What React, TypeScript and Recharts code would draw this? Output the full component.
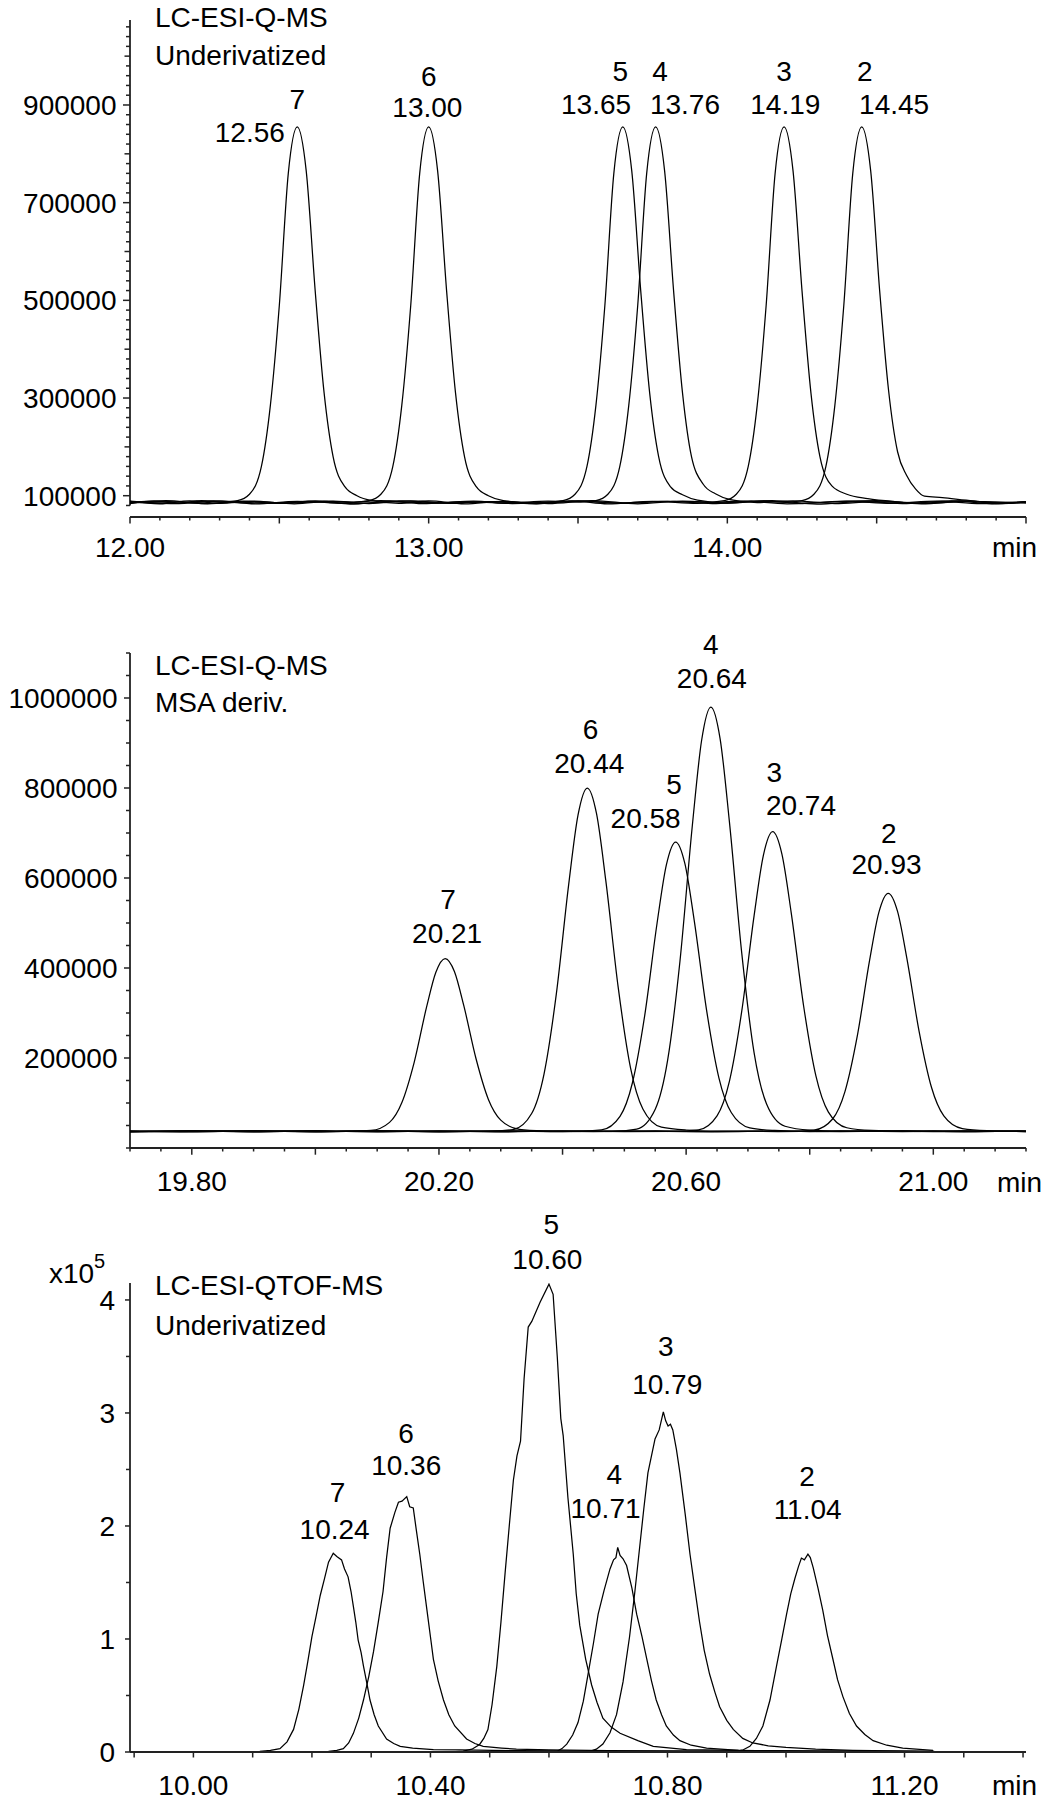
import React from 'react';
import { LineChart, Line, XAxis, YAxis, ReferenceLine, ReferenceDot } from 'recharts';

type Pt = [number, number];

const FONT = '"Liberation Sans", Arial, Helvetica, sans-serif';
const INK = '#000';
const AXIS = '#222';

// ---------------- Panel A: LC-ESI-Q-MS, underivatized (intensity counts) ----------------
const aTrace7: Pt[] = [
  [12.0, 84000], [12.08, 89000], [12.16, 85000], [12.24, 90000], [12.31, 87000], [12.36, 90000], [12.4, 103000],
  [12.44, 160000], [12.47, 285000], [12.5, 490000], [12.53, 760000], [12.56, 855000], [12.59, 765000],
  [12.62, 520000], [12.65, 310000], [12.68, 180000], [12.72, 118000], [12.76, 100000], [12.81, 90000],
  [12.9, 84500], [13.0, 89500], [13.12, 83500], [13.25, 88500], [13.4, 84000], [13.55, 90000], [13.7, 83500],
  [13.85, 89000], [14.0, 85000], [14.15, 90000], [14.3, 83000], [14.45, 88000], [14.6, 84000], [14.75, 89500],
  [14.9, 83500], [15.0, 87000],
];
const aTrace6: Pt[] = [
  [12.0, 88500], [12.1, 83500], [12.2, 89500], [12.3, 84500], [12.42, 88000], [12.55, 83500], [12.68, 89000],
  [12.75, 87000], [12.8, 90000], [12.84, 103000], [12.88, 160000], [12.91, 285000], [12.94, 490000],
  [12.97, 760000], [13.0, 855000], [13.03, 765000], [13.06, 520000], [13.09, 310000], [13.12, 180000],
  [13.16, 118000], [13.2, 100000], [13.25, 90000], [13.35, 85000], [13.48, 89500], [13.6, 83500],
  [13.75, 88500], [13.9, 84500], [14.05, 89000], [14.2, 83500], [14.35, 88000], [14.5, 90000], [14.65, 83500],
  [14.8, 88500], [15.0, 85000],
];
const aTrace5: Pt[] = [
  [12.0, 86000], [12.12, 90000], [12.25, 84000], [12.38, 88500], [12.5, 84500], [12.62, 89500], [12.75, 83500],
  [12.88, 88000], [13.02, 85000], [13.15, 89000], [13.28, 84000], [13.4, 87000], [13.45, 90000], [13.49, 103000],
  [13.53, 160000], [13.56, 285000], [13.59, 490000], [13.62, 760000], [13.65, 855000], [13.68, 765000],
  [13.71, 520000], [13.74, 310000], [13.77, 180000], [13.81, 118000], [13.85, 102000], [13.9, 91000],
  [14.0, 85000], [14.12, 89500], [14.25, 84000], [14.4, 88500], [14.55, 84500], [14.7, 89000], [14.85, 84000],
  [15.0, 87500],
];
const aTrace4: Pt[] = [
  [12.0, 89000], [12.14, 84500], [12.28, 89500], [12.42, 83500], [12.56, 88500], [12.7, 85000], [12.84, 90000],
  [12.98, 84000], [13.12, 88000], [13.26, 84500], [13.4, 89000], [13.51, 87000], [13.56, 90000], [13.6, 103000],
  [13.64, 160000], [13.67, 285000], [13.7, 490000], [13.73, 760000], [13.76, 855000], [13.79, 765000],
  [13.82, 520000], [13.85, 310000], [13.88, 180000], [13.92, 123000], [13.96, 104000], [14.01, 92000],
  [14.1, 86000], [14.22, 89500], [14.36, 84000], [14.5, 88000], [14.64, 84500], [14.78, 89500], [14.92, 85000],
  [15.0, 87000],
];
const aTrace3: Pt[] = [
  [12.0, 85000], [12.13, 88000], [12.26, 83500], [12.4, 89000], [12.53, 85000], [12.66, 88500], [12.8, 84000],
  [12.94, 89500], [13.08, 84500], [13.22, 88000], [13.36, 83500], [13.5, 89000], [13.64, 85000], [13.78, 88500],
  [13.94, 87000], [13.99, 90000], [14.03, 103000], [14.07, 160000], [14.1, 285000], [14.13, 490000],
  [14.16, 760000], [14.19, 855000], [14.22, 765000], [14.25, 520000], [14.28, 310000], [14.31, 180000],
  [14.35, 120000], [14.4, 103000], [14.47, 94000], [14.56, 88000], [14.68, 84500], [14.8, 89000], [14.92, 84000],
  [15.0, 87500],
];
const aTrace2: Pt[] = [
  [12.0, 87500], [12.15, 84000], [12.3, 89000], [12.45, 84500], [12.6, 88500], [12.75, 83500], [12.9, 89500],
  [13.05, 85000], [13.2, 88000], [13.35, 84000], [13.5, 89000], [13.65, 84500], [13.8, 88500], [13.95, 84000],
  [14.08, 89000], [14.2, 87000], [14.25, 90000], [14.29, 103000], [14.33, 160000], [14.36, 285000],
  [14.39, 490000], [14.42, 760000], [14.45, 855000], [14.48, 765000], [14.51, 520000], [14.54, 315000],
  [14.57, 190000], [14.6, 142000], [14.63, 114000], [14.66, 99000], [14.72, 96000], [14.8, 91000],
  [14.9, 85500], [15.0, 88000],
];
const aPeakNums = ['7', '6', '5', '4', '3', '2'];
const aPeakRts = ['12.56', '13.00', '13.65', '13.76', '14.19', '14.45'];
const aXLabelVals = [12, 13, 14];
const aXLabelTexts = ['12.00', '13.00', '14.00'];
const aYLabelVals = [100000, 300000, 500000, 700000, 900000];
const aYLabelTexts = ['100000', '300000', '500000', '700000', '900000'];

// ---------------- Panel B: LC-ESI-Q-MS, MSA derivatized ----------------
const bTrace7: Pt[] = [
  [19.7, 36000], [19.8, 38000], [19.9, 36500], [20.0, 38500], [20.05, 37000], [20.09, 39000], [20.12, 57000],
  [20.14, 101100], [20.16, 191000], [20.18, 313500], [20.195, 390700], [20.21, 421000], [20.225, 392200],
  [20.24, 317300], [20.26, 198300], [20.28, 108000], [20.3, 62000], [20.33, 41600], [20.37, 38200],
  [20.45, 36500], [20.55, 38000], [20.65, 36000], [20.75, 37500], [20.85, 36500], [20.95, 38000],
  [21.05, 36500], [21.15, 37500],
];
const bTrace6: Pt[] = [
  [19.7, 37500], [19.8, 36000], [19.9, 38000], [20.0, 36500], [20.1, 38500], [20.2, 36500], [20.28, 37000],
  [20.32, 41000], [20.35, 76700], [20.37, 164400], [20.39, 343000], [20.41, 586400], [20.425, 739700],
  [20.44, 800000], [20.455, 742800], [20.47, 594000], [20.49, 357500], [20.51, 178200], [20.53, 86600],
  [20.56, 46200], [20.6, 40000], [20.66, 37500], [20.75, 36500], [20.85, 38000], [20.95, 36500],
  [21.05, 38000], [21.15, 36500],
];
const bTrace5: Pt[] = [
  [19.7, 38000], [19.8, 36500], [19.9, 37500], [20.0, 36000], [20.1, 38000], [20.2, 36500], [20.3, 38000],
  [20.38, 36500], [20.42, 37000], [20.463, 40300], [20.493, 70400], [20.513, 144400], [20.533, 294800],
  [20.553, 500000], [20.568, 629200], [20.583, 680000], [20.598, 631800], [20.613, 506400], [20.633, 307000],
  [20.653, 156000], [20.673, 78800], [20.703, 44700], [20.743, 38900], [20.8, 36500], [20.9, 38000],
  [21.0, 36500], [21.15, 37500],
];
const bTrace4: Pt[] = [
  [19.7, 36500], [19.8, 37500], [19.9, 36000], [20.0, 38000], [20.1, 36500], [20.2, 38000], [20.3, 36000],
  [20.4, 37500], [20.48, 37000], [20.52, 41900], [20.55, 86000], [20.57, 194500], [20.59, 415100],
  [20.61, 716000], [20.625, 905500], [20.64, 980000], [20.655, 909300], [20.67, 725400], [20.69, 433100],
  [20.71, 211500], [20.73, 98300], [20.76, 48300], [20.8, 39800], [20.87, 37000], [20.95, 38000],
  [21.05, 36500], [21.15, 37500],
];
const bTrace3: Pt[] = [
  [19.7, 37000], [19.8, 38500], [19.9, 36500], [20.0, 37500], [20.1, 36000], [20.2, 38000], [20.3, 36500],
  [20.4, 38000], [20.5, 36500], [20.58, 37000], [20.62, 40500], [20.65, 71600], [20.67, 148200],
  [20.69, 304100], [20.71, 516500], [20.725, 650400], [20.74, 703000], [20.755, 653000], [20.77, 523200],
  [20.79, 316700], [20.81, 160200], [20.83, 80300], [20.86, 45000], [20.9, 39000], [20.97, 37000],
  [21.05, 38000], [21.15, 36500],
];
const bTrace2: Pt[] = [
  [19.7, 36000], [19.8, 37000], [19.9, 38500], [20.0, 36500], [20.1, 37500], [20.2, 36000], [20.3, 38000],
  [20.4, 36500], [20.5, 38000], [20.6, 36500], [20.7, 37500], [20.767, 37000], [20.807, 39800],
  [20.837, 64500], [20.857, 125300], [20.877, 249100], [20.897, 417900], [20.912, 524200], [20.927, 566000],
  [20.942, 526300], [20.957, 423200], [20.977, 259200], [20.997, 134900], [21.017, 71400], [21.047, 43300],
  [21.087, 38600], [21.15, 37000],
];
const bPeakNums = ['7', '6', '5', '4', '3', '2'];
const bPeakRts = ['20.21', '20.44', '20.58', '20.64', '20.74', '20.93'];
const bXLabelVals = [19.8, 20.2, 20.6, 21.0];
const bXLabelTexts = ['19.80', '20.20', '20.60', '21.00'];
const bYLabelVals = [200000, 400000, 600000, 800000, 1000000];
const bYLabelTexts = ['200000', '400000', '600000', '800000', '1000000'];

// ---------------- Panel C: LC-ESI-QTOF-MS, underivatized (x10^5) ----------------
const cTrace7: Pt[] = [
  [10.1, 0.0], [10.112, 0.005], [10.13, 0.015], [10.146, 0.03], [10.158, 0.09], [10.169, 0.2], [10.178, 0.38],
  [10.186, 0.59], [10.193, 0.8], [10.2, 1.02], [10.207, 1.2], [10.214, 1.385], [10.221, 1.53], [10.228, 1.68],
  [10.236, 1.758], [10.242, 1.73], [10.25, 1.7], [10.255, 1.62], [10.261, 1.55], [10.266, 1.42], [10.27, 1.286],
  [10.274, 1.15], [10.278, 0.99], [10.283, 0.88], [10.287, 0.76], [10.293, 0.6], [10.298, 0.46], [10.305, 0.33],
  [10.312, 0.23], [10.326, 0.115], [10.338, 0.075], [10.349, 0.05], [10.37, 0.035], [10.405, 0.022],
  [10.45, 0.018], [10.55, 0.012], [10.7, 0.008], [10.9, 0.005], [11.25, 0.004],
];
const cTrace6: Pt[] = [
  [10.215, 0.0], [10.228, 0.005], [10.242, 0.015], [10.253, 0.03], [10.262, 0.08], [10.27, 0.165], [10.279, 0.3],
  [10.287, 0.46], [10.296, 0.67], [10.304, 0.89], [10.312, 1.15], [10.32, 1.42], [10.326, 1.72], [10.332, 1.98],
  [10.34, 2.12], [10.346, 2.21], [10.352, 2.22], [10.36, 2.26], [10.365, 2.17], [10.371, 2.16], [10.376, 1.97],
  [10.382, 1.75], [10.388, 1.5], [10.394, 1.26], [10.4, 1.02], [10.405, 0.82], [10.413, 0.63], [10.422, 0.46],
  [10.431, 0.33], [10.441, 0.23], [10.461, 0.115], [10.475, 0.075], [10.489, 0.05], [10.52, 0.035],
  [10.545, 0.025], [10.6, 0.018], [10.7, 0.012], [10.9, 0.007], [11.25, 0.004],
];
const cTrace5: Pt[] = [
  [10.43, 0.0], [10.455, 0.008], [10.47, 0.025], [10.483, 0.067], [10.49, 0.12], [10.497, 0.198], [10.504, 0.42],
  [10.512, 0.758], [10.519, 1.15], [10.526, 1.585], [10.533, 2.0], [10.54, 2.407], [10.546, 2.62], [10.552, 2.75],
  [10.558, 3.3], [10.565, 3.76], [10.571, 3.81], [10.585, 3.98], [10.6, 4.14], [10.607, 4.05], [10.614, 3.5],
  [10.62, 2.95], [10.624, 2.8], [10.632, 2.25], [10.641, 1.75], [10.646, 1.4], [10.652, 1.12], [10.662, 0.82],
  [10.672, 0.593], [10.681, 0.44], [10.691, 0.3], [10.705, 0.22], [10.72, 0.166], [10.75, 0.1], [10.776, 0.05],
  [10.832, 0.02], [10.95, 0.012], [11.06, 0.008], [11.25, 0.005],
];
const cTrace4: Pt[] = [
  [10.58, 0.0], [10.613, 0.005], [10.622, 0.03], [10.63, 0.07], [10.64, 0.15], [10.649, 0.26], [10.658, 0.45],
  [10.666, 0.69], [10.675, 0.96], [10.683, 1.22], [10.693, 1.43], [10.703, 1.62], [10.709, 1.7], [10.713, 1.72],
  [10.716, 1.81], [10.72, 1.74], [10.725, 1.71], [10.731, 1.65], [10.74, 1.45], [10.748, 1.22], [10.757, 1.02],
  [10.765, 0.825], [10.773, 0.63], [10.781, 0.46], [10.79, 0.33], [10.798, 0.23], [10.81, 0.15], [10.821, 0.1],
  [10.84, 0.06], [10.866, 0.035], [10.92, 0.015], [11.05, 0.008], [11.25, 0.004],
];
const cTrace3: Pt[] = [
  [10.64, 0.0], [10.669, 0.005], [10.68, 0.025], [10.691, 0.07], [10.703, 0.17], [10.714, 0.33], [10.725, 0.62],
  [10.736, 1.02], [10.745, 1.42], [10.753, 1.81], [10.76, 2.15], [10.767, 2.47], [10.773, 2.62], [10.779, 2.77],
  [10.786, 2.85], [10.793, 3.01], [10.797, 2.93], [10.801, 2.885], [10.805, 2.9], [10.809, 2.85], [10.815, 2.68],
  [10.821, 2.47], [10.83, 2.1], [10.838, 1.75], [10.846, 1.45], [10.854, 1.155], [10.862, 0.9], [10.871, 0.69],
  [10.88, 0.53], [10.888, 0.4], [10.9, 0.28], [10.911, 0.2], [10.927, 0.12], [10.944, 0.08], [10.97, 0.055],
  [11.0, 0.04], [11.05, 0.025], [11.113, 0.015], [11.25, 0.006],
];
const cTrace2: Pt[] = [
  [10.88, 0.0], [10.916, 0.005], [10.928, 0.02], [10.939, 0.05], [10.95, 0.12], [10.961, 0.23], [10.973, 0.46],
  [10.984, 0.76], [10.993, 1.0], [11.001, 1.22], [11.008, 1.4], [11.015, 1.535], [11.021, 1.64], [11.026, 1.716],
  [11.031, 1.7], [11.037, 1.75], [11.041, 1.72], [11.046, 1.63], [11.054, 1.45], [11.062, 1.256], [11.07, 1.03],
  [11.079, 0.825], [11.087, 0.64], [11.096, 0.49], [11.107, 0.34], [11.119, 0.23], [11.133, 0.155],
  [11.147, 0.1], [11.17, 0.06], [11.197, 0.035], [11.248, 0.015],
];
const cPeakNums = ['7', '6', '5', '4', '3', '2'];
const cPeakRts = ['10.24', '10.36', '10.60', '10.71', '10.79', '11.04'];
const cXLabelVals = [10.0, 10.4, 10.8, 11.2];
const cXLabelTexts = ['10.00', '10.40', '10.80', '11.20'];
const cYLabelVals = [0, 1, 2, 3, 4];
const cYLabelTexts = ['0', '1', '2', '3', '4'];

// ---------------- helpers (layout only) ----------------
const rows = (pts: Pt[]) => pts.map(([t, v]) => ({ t, v }));
function steps(a: number, b: number, s: number): number[] {
  const out: number[] = [];
  const n = Math.round((b - a) / s);
  for (let i = 0; i <= n; i++) out.push(+(a + i * s).toFixed(4));
  return out;
}
const near = (a: number, b: number) => Math.abs(a - b) < 1e-6;
const isMult = (v: number, m: number) => Math.abs(v / m - Math.round(v / m)) < 1e-6;
const apexOf = (pts: Pt[]): Pt => pts.reduce((m, p) => (p[1] > m[1] ? p : m), pts[0]);

type Cfg = {
  top: number; height: number; mTop: number; xH: number; mBottom: number;
  xDomain: [number, number]; yDomain: [number, number];
  xTicks: number[]; xLabelVals: number[]; xLabelTexts: string[];
  xLongEvery: number; xLongLen: number; xShortLen: number; xLabelDy: number;
  yTicks: number[]; yLabelVals: number[]; yLabelTexts: string[];
  yMidEvery: number; yLongLen: number; yMidLen: number; yShortLen: number; yLabelGap: number;
  yAxisFrom: number;
  traces: Pt[][]; curve: 'monotone' | 'linear';
  peakNums: string[]; peakRts: string[];
  // [number dx, number dy, rt dx, rt dy, rt anchor(0 middle / 1 end)]
  labelLayout: number[][];
};

const txt = { fontFamily: FONT, fontSize: 28, fill: INK } as const;

const PeakLabel = (props: any) => {
  const vb = props.viewBox || {};
  const cx = (vb.x ?? props.x ?? 0) + (vb.width ?? 0) / 2;
  const cy = (vb.y ?? props.y ?? 0) + (vb.height ?? 0) / 2;
  const [ndx, ndy, rdx, rdy, end] = props.lay;
  return (
    <g>
      <text x={cx + ndx} y={cy + ndy} textAnchor="middle" {...txt}>{props.num}</text>
      <text x={cx + rdx} y={cy + rdy} textAnchor={end ? 'end' : 'middle'} {...txt}>{props.rt}</text>
    </g>
  );
};

function Panel({ c }: { c: Cfg }) {
  const xTick = (p: any) => {
    const v = p.payload.value;
    const li = c.xLabelVals.findIndex((l) => near(l, v));
    const len = isMult(v, c.xLongEvery) ? c.xLongLen : c.xShortLen;
    return (
      <g>
        <line x1={p.x} x2={p.x} y1={p.y} y2={p.y + len} stroke={AXIS} strokeWidth={1.5} />
        {li >= 0 && (
          <text x={p.x} y={p.y + c.xLabelDy} textAnchor="middle" {...txt}>{c.xLabelTexts[li]}</text>
        )}
      </g>
    );
  };
  const yTick = (p: any) => {
    const v = p.payload.value;
    const li = c.yLabelVals.findIndex((l) => near(l, v));
    const len = li >= 0 ? c.yLongLen : isMult(v, c.yMidEvery) ? c.yMidLen : c.yShortLen;
    return (
      <g>
        <line x1={p.x - len} x2={p.x} y1={p.y} y2={p.y} stroke={AXIS} strokeWidth={1.5} />
        {li >= 0 && (
          <text x={p.x - c.yLongLen - c.yLabelGap} y={p.y + 10} textAnchor="end" {...txt}>{c.yLabelTexts[li]}</text>
        )}
      </g>
    );
  };
  return (
    <div style={{ position: 'absolute', left: 0, top: c.top, width: 1042, height: c.height }}>
      <LineChart width={1042} height={c.height} margin={{ top: c.mTop, right: 16, bottom: c.mBottom, left: 0 }}>
        <XAxis
          dataKey="t" type="number" domain={c.xDomain} allowDataOverflow ticks={c.xTicks} interval={0}
          height={c.xH} tickSize={0} tickMargin={0} tickLine={false}
          axisLine={{ stroke: AXIS, strokeWidth: 1.8 }} tick={xTick}
        />
        <YAxis
          type="number" domain={c.yDomain} allowDataOverflow ticks={c.yTicks} interval={0} width={130}
          tickSize={0} tickMargin={0} tickLine={false} axisLine={false} tick={yTick}
        />
        <ReferenceLine
          segment={[{ x: c.xDomain[0], y: c.yAxisFrom }, { x: c.xDomain[0], y: c.yDomain[1] }]}
          stroke={AXIS} strokeWidth={1.8} ifOverflow="visible"
        />
        {c.traces.map((tr, i) => (
          <Line
            key={`tr${i}`} data={rows(tr)} dataKey="v" type={c.curve} stroke={INK} strokeWidth={1.25}
            dot={false} activeDot={false} isAnimationActive={false}
          />
        ))}
        {c.traces.map((tr, i) => {
          const [t, v] = apexOf(tr);
          return (
            <ReferenceDot
              key={`pk${i}`} x={t} y={v} r={1} fill="none" stroke="none" ifOverflow="visible"
              label={<PeakLabel num={c.peakNums[i]} rt={c.peakRts[i]} lay={c.labelLayout[i]} />}
            />
          );
        })}
      </LineChart>
    </div>
  );
}

const panelA: Cfg = {
  top: 0, height: 580, mTop: 20, xH: 60, mBottom: 3,
  xDomain: [12, 15], yDomain: [56400, 1074000],
  xTicks: steps(12, 15, 0.1), xLabelVals: aXLabelVals, xLabelTexts: aXLabelTexts,
  xLongEvery: 0.5, xLongLen: 6.5, xShortLen: 3.5, xLabelDy: 39.5,
  yTicks: steps(80000, 1060000, 20000), yLabelVals: aYLabelVals, yLabelTexts: aYLabelTexts,
  yMidEvery: 100000, yLongLen: 7, yMidLen: 5.5, yShortLen: 4, yLabelGap: 6.5,
  yAxisFrom: 80000,
  traces: [aTrace7, aTrace6, aTrace5, aTrace4, aTrace3, aTrace2], curve: 'monotone',
  peakNums: aPeakNums, peakRts: aPeakRts,
  labelLayout: [
    [0, -18, -12.4, 15.5, 1],
    [0, -41.2, -1.3, -9.6, 0],
    [-2.4, -45.5, -26.7, -13.2, 0],
    [4.5, -45.5, 29.3, -13.2, 0],
    [0, -45.5, 1.2, -13.2, 0],
    [3.1, -45.5, 32.4, -13.2, 0],
  ],
};

const panelB: Cfg = {
  top: 600, height: 600, mTop: 53, xH: 50, mBottom: 2,
  xDomain: [19.7, 21.15], yDomain: [0, 1100000],
  xTicks: steps(19.7, 21.15, 0.05), xLabelVals: bXLabelVals, xLabelTexts: bXLabelTexts,
  xLongEvery: 0.2, xLongLen: 6.7, xShortLen: 3.5, xLabelDy: 43.3,
  yTicks: steps(0, 1100000, 50000), yLabelVals: bYLabelVals, yLabelTexts: bYLabelTexts,
  yMidEvery: 1e12, yLongLen: 6, yMidLen: 4, yShortLen: 4, yLabelGap: 6.5,
  yAxisFrom: 0,
  traces: [bTrace7, bTrace6, bTrace5, bTrace4, bTrace3, bTrace2], curve: 'monotone',
  peakNums: bPeakNums, peakRts: bPeakRts,
  labelLayout: [
    [3, -49.5, 2, -15.4, 0],
    [3.3, -49.5, 2, -15.4, 0],
    [-1.7, -48.5, -30, -14.4, 0],
    [0, -53.1, 1, -19, 0],
    [1.6, -49.2, 28.3, -16.8, 0],
    [0.6, -50.2, -1.7, -19, 0],
  ],
};

const panelC: Cfg = {
  top: 1190, height: 610, mTop: 93, xH: 46, mBottom: 2,
  xDomain: [9.893, 11.405], yDomain: [0, 4.15],
  xTicks: steps(9.9, 11.4, 0.1), xLabelVals: cXLabelVals, xLabelTexts: cXLabelTexts,
  xLongEvery: 0.1, xLongLen: 5.5, xShortLen: 5.5, xLabelDy: 43.3,
  yTicks: steps(0, 4, 0.5), yLabelVals: cYLabelVals, yLabelTexts: cYLabelTexts,
  yMidEvery: 1e12, yLongLen: 5, yMidLen: 4, yShortLen: 4, yLabelGap: 10,
  yAxisFrom: 0,
  traces: [cTrace7, cTrace6, cTrace5, cTrace4, cTrace3, cTrace2], curve: 'linear',
  peakNums: cPeakNums, peakRts: cPeakRts,
  labelLayout: [
    [4.4, -50.9, 1.4, -14.5, 0],
    [-0.7, -54, -0.5, -21.2, 0],
    [2.4, -50.2, -1.6, -15.6, 0],
    [-3.4, -63.2, -12.2, -29.7, 0],
    [2.4, -55.8, 3.9, -17.9, 0],
    [-1, -68.7, -0.3, -35.2, 0],
  ],
};

export default function App() {
  return (
    <div style={{ position: 'absolute', left: 0, top: 0, width: 1042, height: 1800, background: '#fff' }}>
      <Panel c={panelA} />
      <Panel c={panelB} />
      <Panel c={panelC} />
      <svg
        width={1042} height={1800}
        style={{ position: 'absolute', left: 0, top: 0, pointerEvents: 'none' }}
      >
        <text x={155} y={27} {...txt}>LC-ESI-Q-MS</text>
        <text x={155} y={65} {...txt}>Underivatized</text>
        <text x={992} y={557} {...txt}>min</text>

        <text x={155} y={675} {...txt}>LC-ESI-Q-MS</text>
        <text x={155} y={712} {...txt}>MSA deriv.</text>
        <text x={997} y={1191.7} {...txt}>min</text>

        <text x={49} y={1283} {...txt}>x10</text>
        <text x={94} y={1268} fontFamily={FONT} fontSize={20} fill={INK}>5</text>
        <text x={155} y={1295} {...txt}>LC-ESI-QTOF-MS</text>
        <text x={155} y={1335} {...txt}>Underivatized</text>
        <text x={992} y={1795} {...txt}>min</text>
      </svg>
    </div>
  );
}
